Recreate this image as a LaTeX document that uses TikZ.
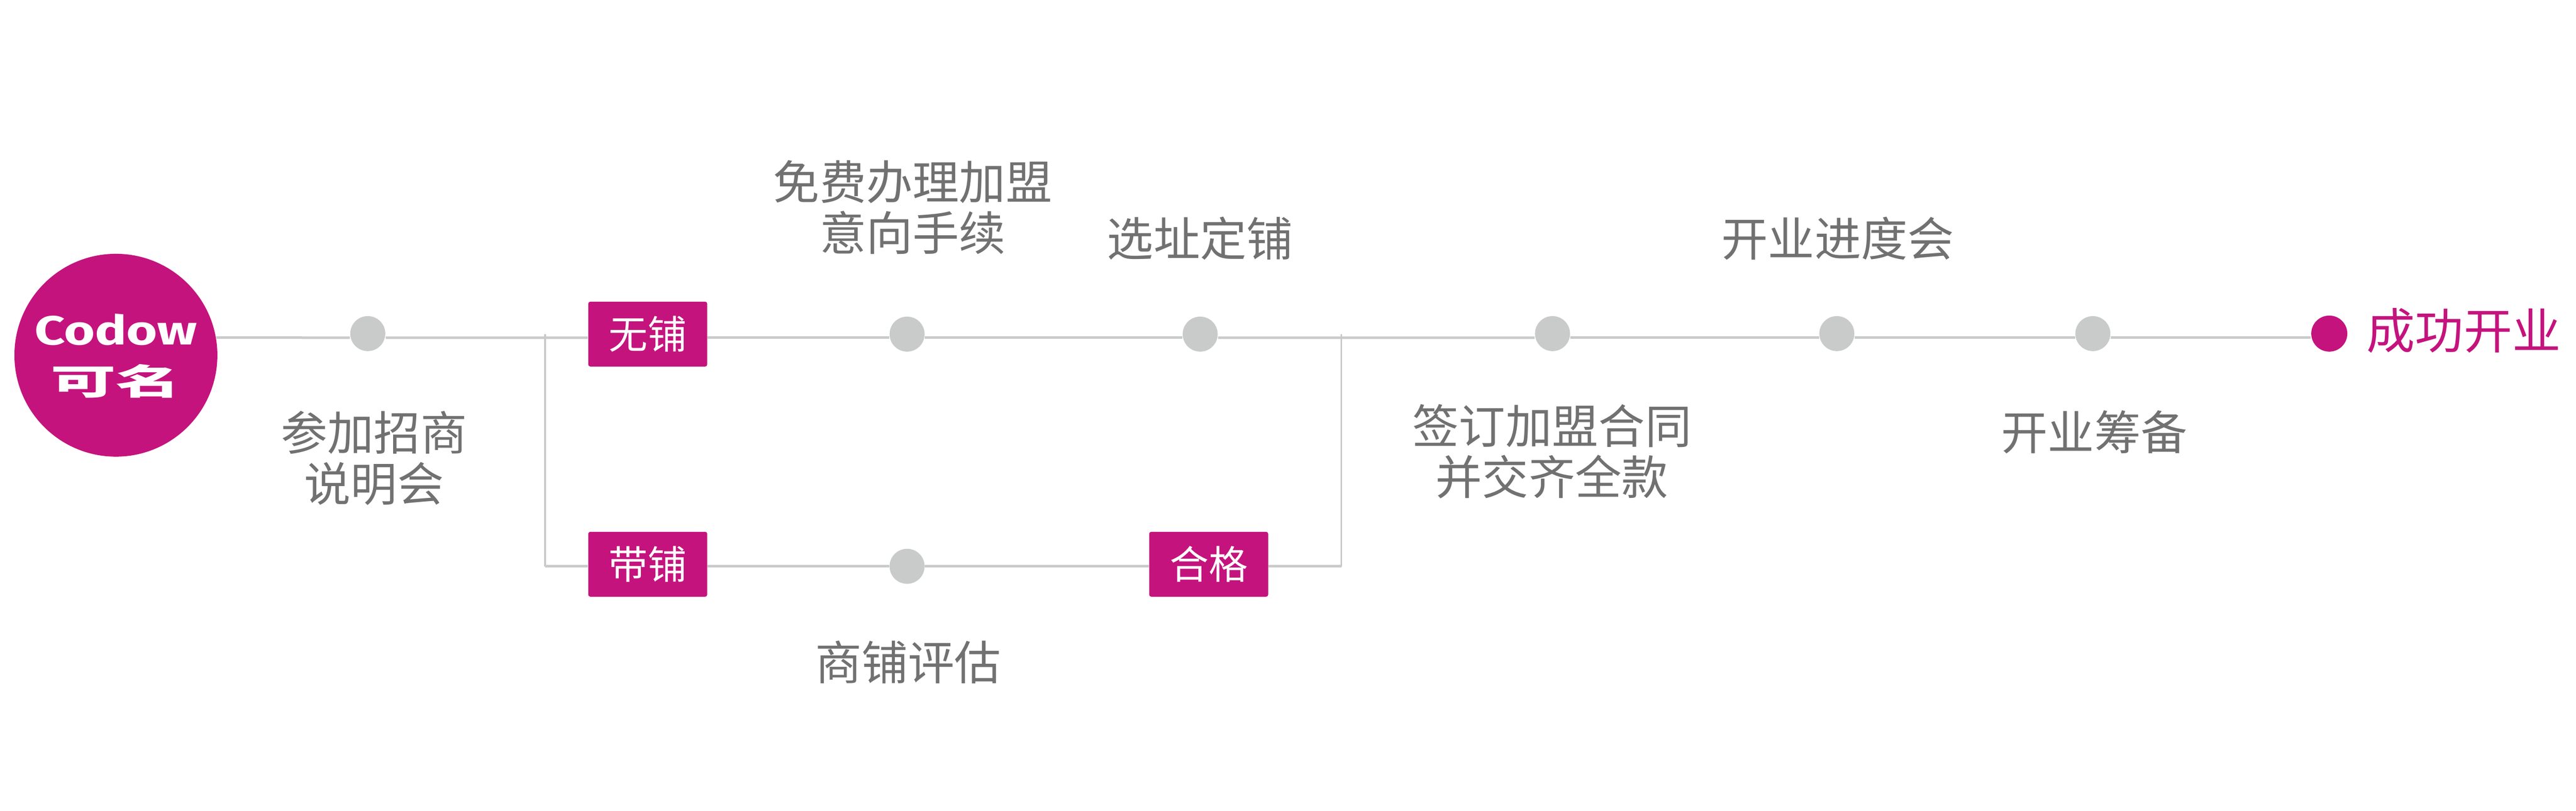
\documentclass[tikz,border=0pt]{standalone}
\usepackage{xcolor}
\usepackage{fontspec}
\usepackage{tikz}
\newfontfamily\cjk{Noto Sans CJK SC}
\newfontfamily\logofont{Fira Sans}
\definecolor{brandred}{HTML}{C4137D}
\definecolor{linegray}{HTML}{C9CBCA}
\definecolor{textgray}{HTML}{717171}
\tikzset{
  dotnode/.style={circle,fill=linegray,minimum size=0.68cm,inner sep=0pt},
  tagbox/.style={rectangle,rounded corners=0.04cm,fill=brandred,text=white,minimum width=2.31cm,minimum height=1.26cm,inner sep=0pt,font=\cjk\fontsize{21.6}{24}\selectfont},
  lab/.style={text=textgray,align=center,inner sep=0pt,font=\cjk\fontsize{25.7}{28.2}\selectfont},
  conn/.style={draw=linegray,line width=0.05cm},
  thinconn/.style={draw=linegray,line width=0.036cm}
}
\begin{document}
\begin{tikzpicture}
    \useasboundingbox (0,0) rectangle (50.01,15.75);

    \node[circle,fill=brandred,minimum size=3.94cm,inner sep=0pt] at (2.25,8.85) (logo) {};
    \node[text=white,inner sep=0pt,xscale=1.30,transform shape,font=\logofont\bfseries\fontsize{22.5}{25}\selectfont] at (2.25,9.35) (logoen) {Codow};
    \node[text=white,inner sep=0pt,xscale=1.85,transform shape,font=\cjk\bfseries\fontsize{19.5}{22}\selectfont] at (2.25,8.35) (logocn) {可名};

    \node[dotnode] at (7.14,9.27) (shuoming) {};
    \node[tagbox] at (12.575,9.26) (wupu) {无铺};
    \node[dotnode] at (17.61,9.26) (shouxu) {};
    \node[dotnode] at (23.30,9.26) (xuanzhi) {};
    \node[dotnode] at (30.14,9.27) (qianding) {};
    \node[dotnode] at (35.66,9.27) (jindu) {};
    \node[dotnode] at (40.63,9.27) (choubei) {};
    \node[dotnode,fill=brandred,minimum size=0.70cm] at (45.22,9.27) (kaiye) {};

    \node[tagbox] at (12.575,4.79) (daipu) {带铺};
    \node[dotnode] at (17.61,4.75) (pinggu) {};
    \node[tagbox] at (23.465,4.79) (hege) {合格};

    \coordinate (ltop) at (10.58,9.26);
    \coordinate (lcorner) at (10.58,4.75);
    \coordinate (rtop) at (26.04,9.26);
    \coordinate (rcorner) at (26.04,4.75);

    % main line
    \draw[conn] (logo.10) -- ([yshift=-0.08cm]shuoming.west);
    \draw[conn] ([yshift=-0.08cm]shuoming.east) -- ([yshift=-0.07cm]wupu.west);
    \draw[conn] ([yshift=-0.07cm]wupu.east) -- ([yshift=-0.07cm]shouxu.west);
    \draw[conn] ([yshift=-0.07cm]shouxu.east) -- ([yshift=-0.07cm]xuanzhi.west);
    \draw[conn] ([yshift=-0.07cm]xuanzhi.east) -- ([yshift=-0.08cm]qianding.west);
    \draw[conn] ([yshift=-0.08cm]qianding.east) -- ([yshift=-0.08cm]jindu.west);
    \draw[conn] ([yshift=-0.08cm]jindu.east) -- ([yshift=-0.08cm]choubei.west);
    \draw[conn] ([yshift=-0.08cm]choubei.east) -- ([yshift=-0.08cm]kaiye.west);

    % lower branch
    \draw[thinconn] (ltop) -- (lcorner);
    \draw[thinconn] (rtop) -- (rcorner);
    \draw[conn] (lcorner) -- ([yshift=-0.04cm]daipu.west);
    \draw[conn] ([yshift=-0.04cm]daipu.east) -- (pinggu.west);
    \draw[conn] (pinggu.east) -- ([yshift=-0.04cm]hege.west);
    \draw[conn] ([yshift=-0.04cm]hege.east) -- (rcorner);

    \node[lab] at (7.26,6.85) (labshuoming) {参加招商\\说明会};
    \node[lab] at (17.72,11.72) (labshouxu) {免费办理加盟\\意向手续};
    \node[lab] at (23.30,11.12) (labxuanzhi) {选址定铺};
    \node[lab] at (30.13,6.98) (labqianding) {签订加盟合同\\并交齐全款};
    \node[lab] at (35.68,11.12) (labjindu) {开业进度会};
    \node[lab] at (40.66,7.36) (labchoubei) {开业筹备};
    \node[lab] at (17.63,2.89) (labpinggu) {商铺评估};
    \node[lab,text=brandred,font=\cjk\fontsize{26.8}{30}\selectfont] at (47.83,9.33) (labkaiye) {成功开业};

\end{tikzpicture}
\end{document}
